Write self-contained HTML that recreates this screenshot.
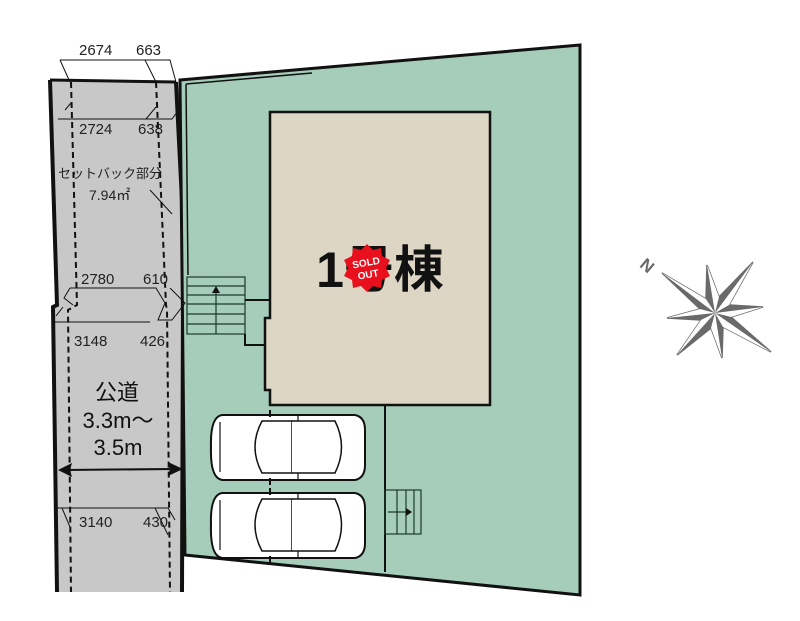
<!DOCTYPE html>
<html><head><meta charset="utf-8"><style>
html,body{margin:0;padding:0;background:#fff;}
svg{display:block}
text{font-family:"Liberation Sans","Noto Sans CJK JP",sans-serif;}
</style></head><body>
<svg width="800" height="621" viewBox="0 0 800 621" xmlns="http://www.w3.org/2000/svg">
<polygon points="50,80 176,82 187,300 183,302 182,592 57,592 55,307 57,305" fill="#c8c8c8"/>
<polyline points="50,80 57,305 53,307 57,592" fill="none" stroke="#111" stroke-width="4"/>
<polyline points="176,82 187,300 183,302 182,592" fill="none" stroke="#111" stroke-width="4"/>
<line x1="50" y1="80" x2="176" y2="82" stroke="#111" stroke-width="3"/>
<polyline points="71,82 77,305 68,310 71,592" fill="none" stroke="#111" stroke-width="2" stroke-dasharray="6,4"/>
<polyline points="156,82 166,305 167,310 170,592" fill="none" stroke="#111" stroke-width="2" stroke-dasharray="6,4"/>
<polygon points="180,80 580,45 580,595 185,555" fill="#a6cdb9" stroke="#111" stroke-width="3"/>
<polyline points="186,84 312,73" fill="none" stroke="#111" stroke-width="1.5"/>
<line x1="186" y1="84" x2="188" y2="275" stroke="#111" stroke-width="1.5"/>
<line x1="385" y1="405" x2="385" y2="572" stroke="#111" stroke-width="2"/>
<polygon points="270,112 490,112 490,405 270,405 270,390 265,390 265,318 270,318" fill="#ddd6c5" stroke="#111" stroke-width="2.5"/>
<g stroke="#1a3a2a" stroke-width="1.2" fill="none">
<rect x="187" y="277" width="58" height="57"/>
<line x1="187" y1="286" x2="245" y2="286"/><line x1="187" y1="295" x2="245" y2="295"/>
<line x1="187" y1="304" x2="245" y2="304"/><line x1="187" y1="314" x2="245" y2="314"/>
<line x1="187" y1="324" x2="245" y2="324"/>
<line x1="216" y1="334" x2="216" y2="288"/>
</g>
<polygon points="216,286 212,293 220,293" fill="#111"/>
<polyline points="245,300 270,300" stroke="#111" stroke-width="2" fill="none"/>
<polyline points="245,334 245,345 265,345" stroke="#111" stroke-width="2" fill="none"/>
<g stroke="#1a3a2a" stroke-width="1.2" fill="none">
<rect x="385" y="490" width="36" height="44"/>
<line x1="397" y1="490" x2="397" y2="534"/><line x1="406" y1="490" x2="406" y2="534"/><line x1="414" y1="490" x2="414" y2="534"/>
<line x1="388" y1="512" x2="410" y2="512"/>
</g>
<polygon points="412,512 406,508 406,516" fill="#111"/>
<g id="car" fill="#fff" stroke="#111" stroke-width="2">
<path d="M222,415 L355,415 Q365,417 365,430 L365,465 Q365,478 355,480 L222,480 Q210,478 211,447 Q210,417 222,415 Z"/>
<path d="M262,421 Q248,447 262,473 L292,473 L292,421 Z" stroke-width="1.5"/>
<path d="M292,421 L335,421 Q348,447 335,473 L292,473" stroke-width="1.5"/>
<line x1="220" y1="422" x2="220" y2="472" stroke-width="1.2"/>
<line x1="298" y1="415" x2="298" y2="421" stroke-width="1.2"/><line x1="298" y1="473" x2="298" y2="480" stroke-width="1.2"/>
<line x1="270" y1="410" x2="270" y2="417" stroke-width="2"/><line x1="270" y1="478" x2="270" y2="485" stroke-width="2"/>
</g>
<use href="#car" transform="translate(0,78)"/>
<g stroke="#111" stroke-width="1" fill="none">
<polyline points="60,60 70,82"/><polyline points="60,60 145,60 156,82"/><polyline points="145,60 170,60 176,82"/>
<polyline points="65,110 71,103"/><polyline points="58,119 146,119 156,107"/><polyline points="146,119 172,119 180,108"/>
<line x1="150" y1="190" x2="172" y2="214"/>
<polyline points="70,288 156,288 165,303 158,320 172,320 185,303 170,288"/>
<polyline points="70,288 64,298 73,305"/>
<polyline points="55,322 150,322"/>
<polyline points="56,316 63,307"/>
<polyline points="55,508 168,508 175,520"/>
<polyline points="155,508 168,535"/><polyline points="62,508 70,527"/>
</g>
<line x1="64" y1="470" x2="176" y2="469" stroke="#111" stroke-width="2"/>
<polygon points="58,470 72,463 70,470 72,477" fill="#111"/>
<polygon points="183,469 168,462 170,469 168,476" fill="#111"/>
<g fill="#222" font-size="15">
<text x="79" y="55">2674</text><text x="136" y="55">663</text>
<text x="79" y="134">2724</text><text x="138" y="134">638</text>
<text x="81" y="284">2780</text><text x="143" y="284">610</text>
<text x="74" y="346">3148</text><text x="140" y="346">426</text>
<text x="79" y="527">3140</text><text x="143" y="527">430</text>
</g>
<text x="58" y="178" font-size="13" fill="#222">セットバック部分</text>
<text x="89" y="200" font-size="14" fill="#222">7.94㎡</text>
<g fill="#111" text-anchor="middle" font-size="22">
<text x="117" y="400">公道</text>
<text x="118" y="428">3.3m～</text>
<text x="118" y="455">3.5m</text>
</g>
<text x="380" y="287" font-size="50" font-weight="bold" text-anchor="middle" fill="#111">1号棟</text>
<g transform="translate(367,268)">
<polygon points="0,-24 6,-18 14,-20 15,-12 23,-8 19,0 23,8 15,12 14,20 6,18 0,24 -6,18 -14,20 -15,12 -23,8 -19,0 -23,-8 -15,-12 -14,-20 -6,-18" fill="#e8101c"/>
<text x="0" y="-2" font-size="10" font-weight="bold" fill="#fff" text-anchor="middle" transform="rotate(-10)">SOLD</text>
<text x="0" y="10" font-size="10" font-weight="bold" fill="#fff" text-anchor="middle" transform="rotate(-10)">OUT</text>
</g>
<!-- compass -->
<polygon points="662,273 706,299 707,265 719,297 753,262 729,305 763,307 731,317 771,352 723,327 722,358 711,328 677,355 701,320 667,318 700,309" fill="#6a6a6a" stroke="#6a6a6a" stroke-width="1.5"/>
<g fill="#fff">
<polygon points="715,313 662,273 706,299"/>
<polygon points="715,313 707,265 719,297"/>
<polygon points="715,313 753,262 729,305"/>
<polygon points="715,313 763,307 731,317"/>
<polygon points="715,313 771,352 723,327"/>
<polygon points="715,313 722,358 711,328"/>
<polygon points="715,313 677,355 701,320"/>
<polygon points="715,313 667,318 700,309"/>
</g>
<text x="641" y="272" font-size="17" font-weight="bold" fill="#6a6a6a" transform="rotate(40 648 266)">N</text>
</svg>
</body></html>
